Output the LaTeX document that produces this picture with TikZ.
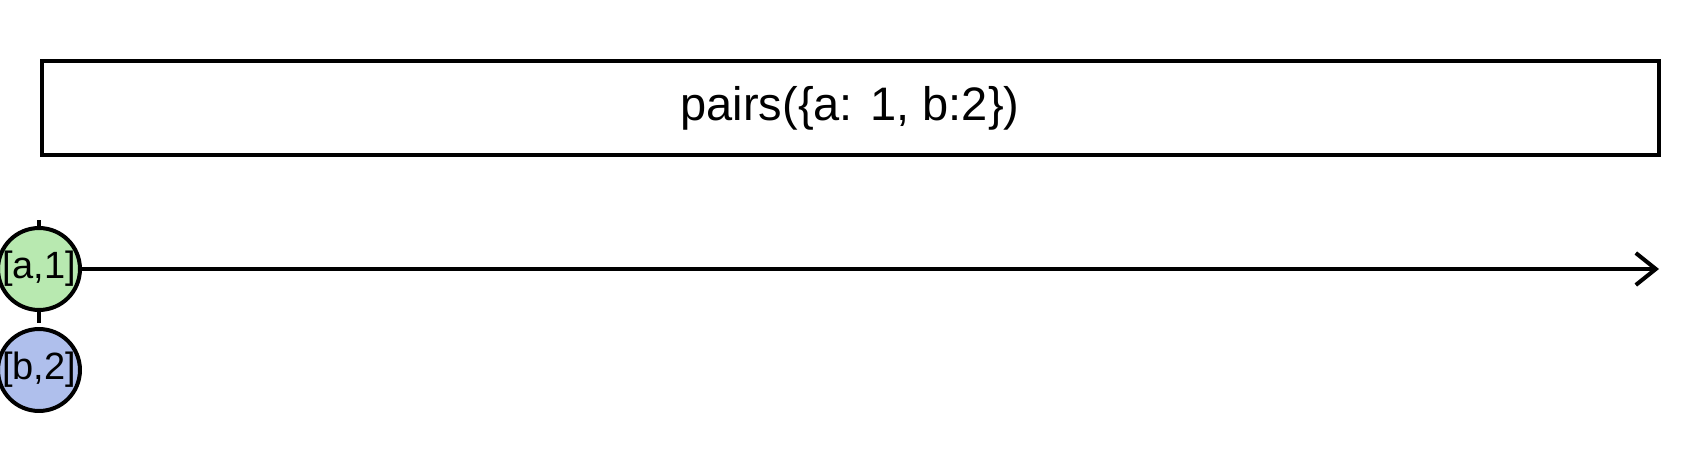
\documentclass[tikz,border=0pt]{standalone}
\usepackage{fontspec}
\setmainfont{Liberation Sans}
\usetikzlibrary{arrows.meta,positioning}
\definecolor{prsGreen}{HTML}{B8E9B0}
\definecolor{prsBlue}{HTML}{AFBFEC}
\tikzset{
  prsop/.style={draw,line width=4pt,minimum width=1617pt,minimum height=93pt,inner sep=0pt,
                font=\fontsize{47}{56}\selectfont},
  prsval/.style={circle,draw,line width=4pt,minimum size=75pt,inner sep=0pt,
                 font=\fontsize{38}{44}\selectfont},
  prsline/.style={line width=4pt,-{Straight Barb[length=20pt,width=32pt,line width=4pt]}},
  prstick/.style={line width=4pt},
}
\begin{document}
\begin{tikzpicture}[x=1pt,y=-1pt]
  \useasboundingbox (0,0) rectangle (1700,460);
  \node[prsop] (op) at (850,108) {pairs(\{a: 1, b:2\})};

  \coordinate (tEnd) at (1659,269);
  \coordinate (tTop) at (39,220);
  \node[prsval,fill=prsGreen] (A) at (39,269) {[a,1]};
  \node[prsval,fill=prsBlue] (B) at (39,370) {[b,2]};

  \draw[prsline] (A.east) -- (tEnd);
  \draw[prstick] (tTop) -- (A.north);
  \draw[prstick] (A.south) -- ++(0,11);
\end{tikzpicture}
\end{document}
